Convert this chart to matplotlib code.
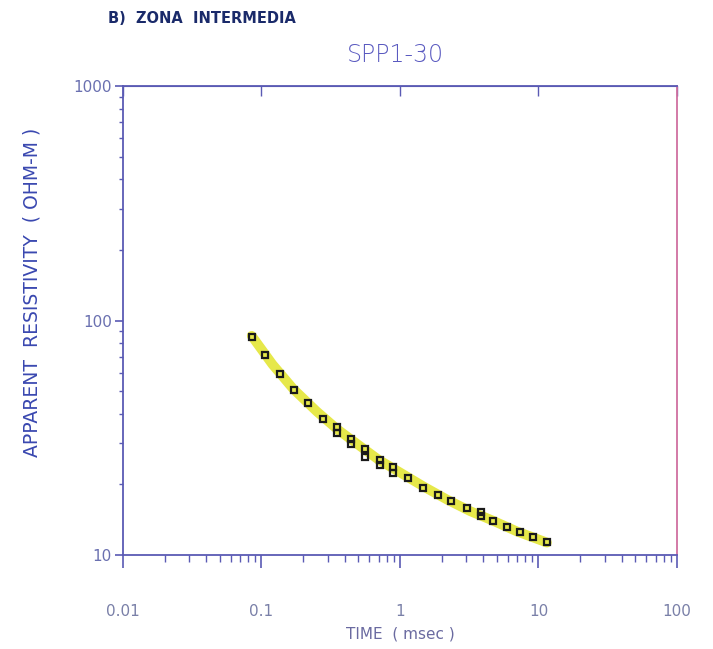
import matplotlib
matplotlib.use("Agg")
import matplotlib.pyplot as plt
from matplotlib.ticker import LogLocator, NullFormatter, FixedLocator

# Observed apparent resistivity (ohm-m) vs time (msec)
time_obs = [0.085, 0.106, 0.136, 0.172, 0.217, 0.278, 0.351, 0.351, 0.443, 0.443,
            0.559, 0.559, 0.717, 0.717, 0.889, 0.889, 1.14, 1.47, 1.88, 2.33,
            3.05, 3.85, 3.85, 4.69, 5.93, 7.35, 9.12, 11.5]
rho_obs = [85.0, 71.2, 59.0, 50.4, 44.3, 37.9, 35.3, 33.0, 31.1, 29.6,
           28.2, 26.3, 25.5, 24.3, 23.8, 22.4, 21.4, 19.4, 18.1, 17.0,
           15.9, 15.3, 14.7, 14.0, 13.2, 12.5, 11.9, 11.4]

# Model curve (yellow)
time_model = [0.085, 0.12, 0.17, 0.25, 0.35, 0.5, 0.7, 1.0, 1.5, 2.2, 3.2, 4.7, 7.0, 11.5]
rho_model = [86.0, 65.0, 51.0, 41.0, 34.5, 29.5, 25.5, 22.5, 19.5, 17.2, 15.4, 14.0, 12.6, 11.3]

xtick_vals = [0.01, 0.1, 1, 10, 100]
xtick_labels = ["0.01", "0.1", "1", "10", "100"]
ytick_vals = [10, 100, 1000]
ytick_labels = ["10", "100", "1000"]

fig = plt.figure(figsize=(7.13, 6.49), dpi=100)
ax = fig.add_axes([0.1725, 0.1448, 0.777, 0.7227])

ax.plot(time_model, rho_model, color="#e6e84a", lw=7, solid_capstyle="round", zorder=2)
ax.plot(time_obs, rho_obs, linestyle="none", marker="s", markersize=5,
        markerfacecolor="none", markeredgecolor="#1a1a1a", markeredgewidth=1.6, zorder=3)

ax.set_xscale("log")
ax.set_yscale("log")
ax.set_xlim(0.01, 100)
ax.set_ylim(10, 1000)

axis_color = "#5a5ab4"
for side in ["left", "bottom", "top", "right"]:
    ax.spines[side].set_color(axis_color)
    ax.spines[side].set_linewidth(1.3)
ax.spines["right"].set_color("#d070a0")

ax.xaxis.set_major_locator(FixedLocator(xtick_vals))
ax.set_xticklabels(xtick_labels)
ax.yaxis.set_major_locator(FixedLocator(ytick_vals))
ax.set_yticklabels(ytick_labels)
ax.xaxis.set_minor_locator(LogLocator(base=10, subs=range(2, 10)))
ax.yaxis.set_minor_locator(LogLocator(base=10, subs=range(2, 10)))
ax.xaxis.set_minor_formatter(NullFormatter())
ax.yaxis.set_minor_formatter(NullFormatter())

ax.tick_params(axis="x", which="major", direction="out", length=9, width=1.2,
               color=axis_color, labelcolor="#7a80a8", labelsize=11, pad=26)
ax.tick_params(axis="x", which="minor", direction="out", length=5, width=1.0,
               color=axis_color)
ax.tick_params(axis="y", which="major", direction="out", length=6, width=1.2,
               color=axis_color, labelcolor="#6a70b0", labelsize=11, pad=2)
ax.tick_params(axis="y", which="minor", direction="out", length=3, width=1.0,
               color=axis_color)

# inward ticks on the top frame
ax_top = ax.secondary_xaxis("top")
ax_top.xaxis.set_major_locator(FixedLocator(xtick_vals))
ax_top.xaxis.set_minor_locator(LogLocator(base=10, subs=range(2, 10)))
ax_top.xaxis.set_major_formatter(NullFormatter())
ax_top.xaxis.set_minor_formatter(NullFormatter())
ax_top.tick_params(which="major", direction="in", length=7, width=1.0, color=axis_color)
ax_top.tick_params(which="minor", direction="in", length=0)
ax_top.spines["top"].set_color(axis_color)

ax.set_xlabel("TIME  ( msec )", fontsize=11, color="#6a6aa0", labelpad=6)

fig.text(0.045, 0.55, "APPARENT  RESISTIVITY  ( OHM-M )", rotation=90,
         ha="center", va="center", fontsize=13.5, color="#3a48b0")

fig.text(0.555, 0.915, "SPP1-30", ha="center", va="center", fontsize=17,
         color="#5a5ac0", fontweight="light")
fig.text(0.152, 0.972, "B)  ZONA  INTERMEDIA", ha="left", va="center", fontsize=10.5,
         color="#1a2a6a", fontweight="bold")

fig.savefig("out.png", dpi=100)
